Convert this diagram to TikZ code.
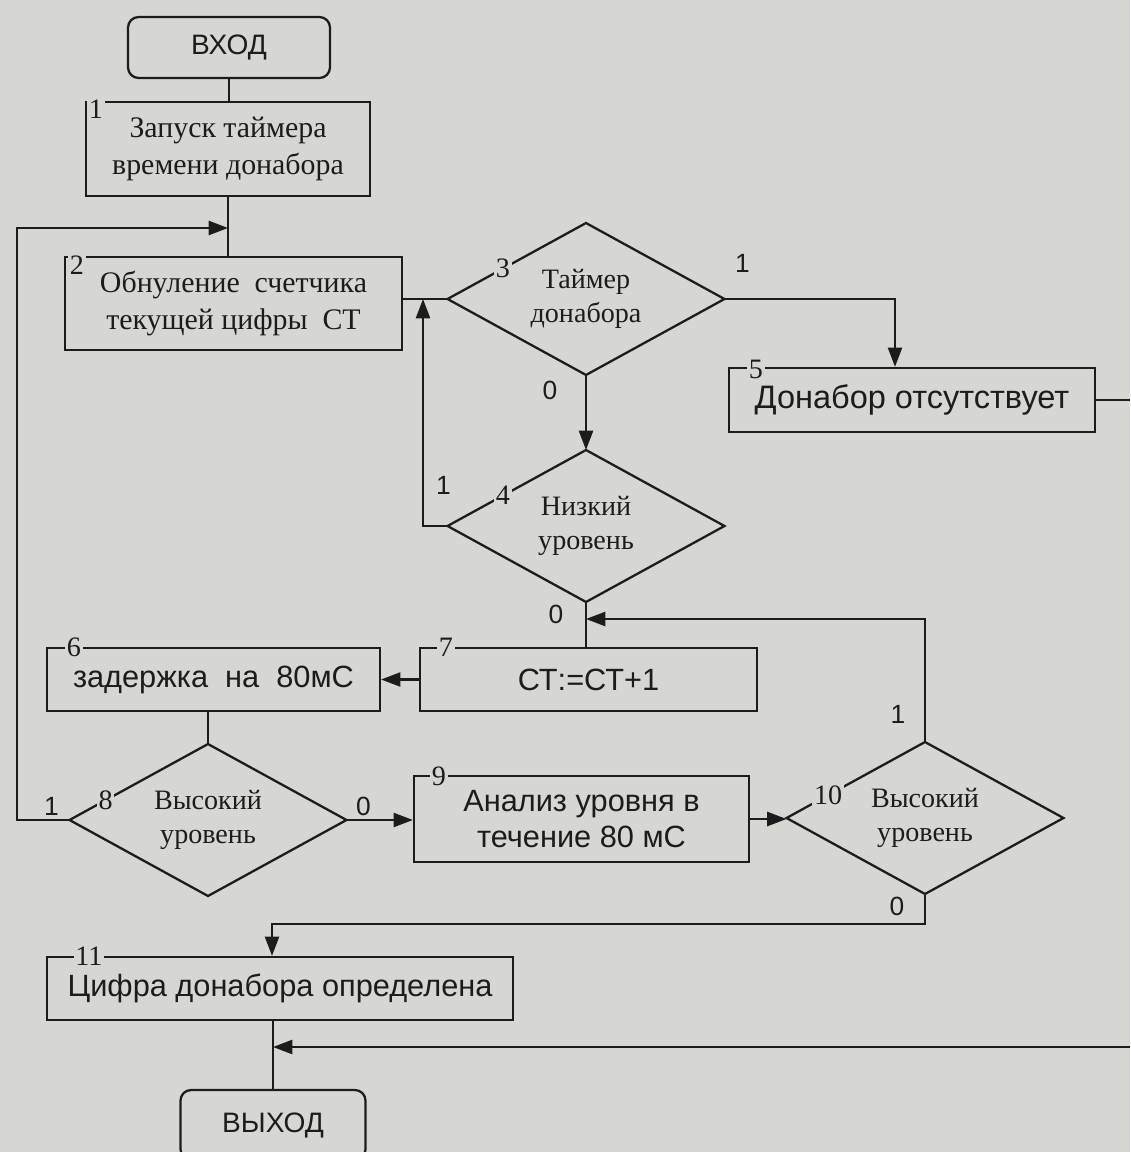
\documentclass[tikz,border=0pt]{standalone}
\usepackage{fontspec}
\setmainfont{Liberation Serif}
\setsansfont{Liberation Sans}
\usetikzlibrary{shapes.geometric,arrows.meta,calc}
\definecolor{paper}{RGB}{214,214,211}
\definecolor{ink}{RGB}{28,28,28}

\begin{document}
\begin{tikzpicture}[
	%	style def
    x=0.02cm, y=-0.02cm,
    flow line/.style={line width=1.3pt, draw=ink},
    flow arrow/.style={flow line, -{Triangle[length=11pt,width=8pt]}},
    block/.style={draw=ink, line width=1.3pt, rectangle, inner sep=2pt, align=center, text=ink},
    sans block/.style={block, font=\sffamily\fontsize{17.5}{20}\selectfont},
    serif block/.style={block, font=\fontsize{17}{21}\selectfont},
    terminal/.style={block, rounded corners=6pt, font=\sffamily\fontsize{16}{16}\selectfont},
    decision/.style={draw=ink, line width=1.3pt, diamond, shape aspect=1.8, inner sep=0pt, outer sep=0pt,
        minimum width=5.54cm, minimum height=3.04cm, align=center, text=ink, font=\fontsize{16}{19.5}\selectfont},
    box num/.style={fill=paper, inner sep=1pt, text=ink, font=\fontsize{16}{16}\selectfont},
    exit num/.style={text=ink, inner sep=0pt, font=\sffamily\fontsize{15}{15}\selectfont}
    ]

    % paper
    \fill[paper] (0,0) rectangle (1130,1152);
    \clip (0,0) rectangle (1130,1152);

    % blocks
    \node[terminal, minimum width=4.04cm, minimum height=1.22cm] (in) at (229,47.5) {ВХОД};
    \node[serif block, minimum width=5.68cm, minimum height=1.88cm] (b1) at (228,149) {Запуск таймера\\времени донабора};
    \node[serif block, minimum width=6.74cm, minimum height=1.86cm] (b2) at (233.5,303.5) {Обнуление\ \ счетчика\\текущей цифры\ \ СТ};
    \node[decision] (d3) at (586,299) {Таймер\\донабора};
    \node[sans block, minimum width=7.32cm, minimum height=1.28cm, font=\sffamily\fontsize{18.5}{20}\selectfont] (b5) at (912,400) {Донабор отсутствует};
    \node[decision] (d4) at (586,526) {Низкий\\уровень};
    \node[sans block, minimum width=6.74cm, minimum height=1.26cm] (b7) at (588.5,679.5) {СТ:=СТ+1};
    \node[sans block, minimum width=6.66cm, minimum height=1.26cm] (b6) at (213.5,679.5) {задержка\ \ на\ \ 80мС};
    \node[decision] (d8) at (208,820) {Высокий\\уровень};
    \node[sans block, minimum width=6.7cm, minimum height=1.72cm] (b9) at (581.5,819) {Анализ уровня в\\течение 80 мС};
    \node[decision] (d10) at (925,818) {Высокий\\уровень};
    \node[sans block, minimum width=9.32cm, minimum height=1.26cm] (b11) at (280,988.5) {Цифра донабора определена};
    \node[terminal, minimum width=3.7cm, minimum height=1.4cm] (out) at (273,1125) {ВЫХОД};

    % bends and free ends
    \coordinate (j12) at (228,228);
    \coordinate (lbend) at (17,228);
    \coordinate (j24) at (423,299);
    \coordinate (j35) at (895,299);
    \coordinate (j47) at (586,619);
    \coordinate (lowbend) at (272,924);
    \coordinate (rt5) at (1130,400);
    \coordinate (rt11) at (1130,1047);

    % connections
    \draw[flow line] (in.south) -- (in.south |- b1.north);
    \draw[flow line] (b1.south) -- (b1.south |- b2.north);
    \draw[flow arrow] (d8.west) -| (lbend) -- (j12);
    \draw[flow line] (d3.west) -- (d3.west -| b2.east);
    \draw[flow arrow] (d4.west) -| (j24);
    \draw[flow arrow] (d3.east) -- (j35) -- (j35 |- b5.north);
    \draw[flow line] (b5.east) -- (rt5);
    \draw[flow arrow] (d3.south) -- (d4.north);
    \draw[flow line] (d4.south) -- (d4.south |- b7.north);
    \draw[flow arrow] (d10.north) |- (j47);
    \draw[flow arrow] (b7.west) -- (b6.east);
    \draw[flow line] (d8.north |- b6.south) -- (d8.north);
    \draw[flow arrow] (d8.east) -- (d8.east -| b9.west);
    \draw[flow arrow] (b9.east) -- (b9.east -| d10.west);
    \draw[flow arrow] (d10.south) |- (lowbend) -- (lowbend |- b11.north);
    \draw[flow line] (out.north |- b11.south) -- (out.north);
    \draw[flow arrow] (rt11) -- (out.north |- rt11);

    % block numbers
    \node[box num] at ([shift={(11,8)}]b1.north west) {1};
    \node[box num] at ([shift={(13,9)}]b2.north west) {2};
    \node[box num] at ([shift={(28,3)}]b5.north west) {5};
    \node[box num] at ([shift={(28,0)}]b6.north west) {6};
    \node[box num] at ([shift={(27,0)}]b7.north west) {7};
    \node[box num] at ([shift={(26,1)}]b9.north west) {9};
    \node[box num] at ([shift={(43,0)}]b11.north west) {11};
    \node[box num] at ($(d3.west)!0.4!(d3.north)$) {3};
    \node[box num] at ($(d4.west)!0.4!(d4.north)$) {4};
    \node[box num] at ($(d8.west)!0.26!(d8.north)$) {8};
    \node[box num] at ($(d10.west)!0.3!(d10.north)$) {10};

    % exit values
    \node[exit num] at ([shift={(18,-36)}]d3.east) {1};
    \node[exit num] at ([shift={(-36,15)}]d3.south) {0};
    \node[exit num] at ([shift={(-4,-41)}]d4.west) {1};
    \node[exit num] at ([shift={(-30,12)}]d4.south) {0};
    \node[exit num] at ([shift={(-18,-14)}]d8.west) {1};
    \node[exit num] at ([shift={(17,-14)}]d8.east) {0};
    \node[exit num] at ([shift={(-27,-28)}]d10.north) {1};
    \node[exit num] at ([shift={(-28,12)}]d10.south) {0};
\end{tikzpicture}
\end{document}
